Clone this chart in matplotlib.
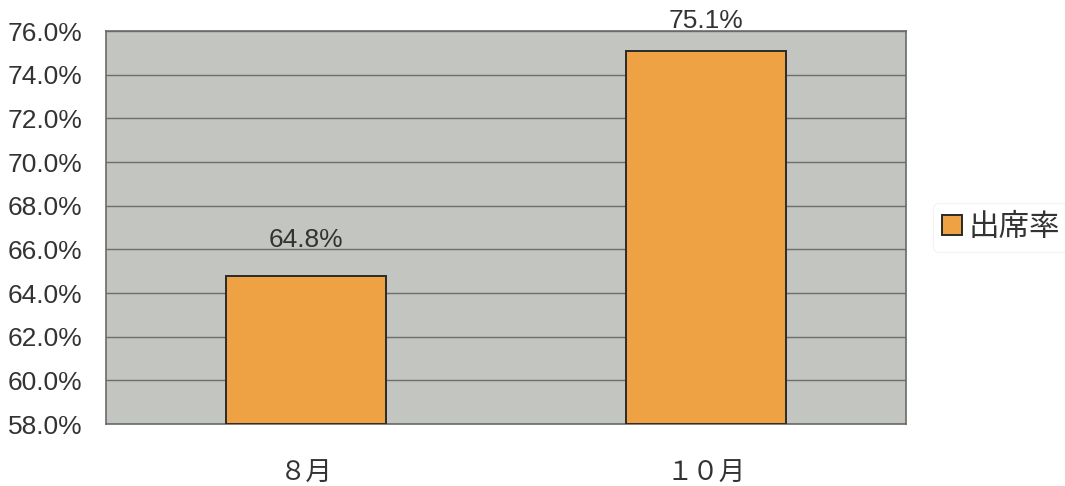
import matplotlib.pyplot as plt
from matplotlib.ticker import FuncFormatter

# データ
months = ["８月", "１０月"]
rates = [64.8, 75.1]
series_name = "出席率"

Y_MIN, Y_MAX, Y_STEP = 58.0, 76.0, 2.0

NUM_FONT = ['Liberation Sans', 'DejaVu Sans']
JP_FONT = ['Noto Sans CJK JP', 'DejaVu Sans']
plt.rcParams['font.family'] = NUM_FONT

fig = plt.figure(figsize=(10.65, 4.86), dpi=100)
ax = fig.add_axes([106 / 1065, 1 - 424 / 486, 800 / 1065, 393 / 486])

ax.set_facecolor("#c3c5c0")
ax.bar(range(len(months)), [r - Y_MIN for r in rates], width=0.4, bottom=Y_MIN,
       color="#eea244", edgecolor="#2a2a2a", linewidth=1.4,
       label=series_name, zorder=3)

ax.set_xlim(-0.5, len(months) - 0.5)
ax.set_ylim(Y_MIN, Y_MAX)
ticks = [Y_MIN + i * Y_STEP for i in range(int((Y_MAX - Y_MIN) / Y_STEP) + 1)]
ax.set_yticks(ticks)
ax.yaxis.set_major_formatter(FuncFormatter(lambda v, p: f"{v:.1f}%"))
ax.grid(axis="y", color="#6e6e6e", linewidth=1.0, zorder=1)
ax.set_axisbelow(True)

ax.set_xticks(range(len(months)))
ax.set_xticklabels(months, family=JP_FONT, fontsize=19, color="#333333")
ax.tick_params(axis="y", labelsize=19, labelcolor="#333333", length=0, pad=17)
ax.tick_params(axis="x", length=0, pad=26)

for s in ax.spines.values():
    s.set_color("#6a6a6a")
    s.set_linewidth(1.2)

# データラベル（上端で収まるように調整）
for i, r in enumerate(rates):
    y = min(r + 1.1, Y_MAX - 0.1)
    ax.text(i, y, f"{r:.1f}%", ha="center", va="bottom",
            fontsize=19, color="#333333")

leg = ax.legend(loc="center left", bbox_to_anchor=(1.015, 0.5), frameon=True,
                prop={'family': JP_FONT, 'size': 22},
                handlelength=0.65, handleheight=0.65, handletextpad=0.2,
                borderpad=0.3)
leg.get_frame().set_edgecolor("#f0f0f0")
leg.get_frame().set_linewidth(0.8)
for t in leg.get_texts():
    t.set_color("#333333")

fig.savefig("out.png", dpi=100)
